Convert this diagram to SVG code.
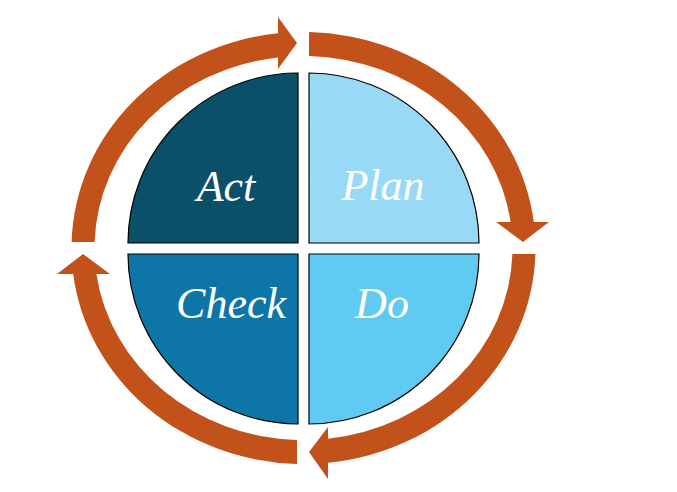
<svg xmlns="http://www.w3.org/2000/svg" width="677" height="492" viewBox="0 0 677 492">
<style>
.arr{fill:#C2521A;stroke:none}
.q{stroke:#000;stroke-width:1.2}
.lbl{font-family:"Liberation Serif","DejaVu Serif",serif;font-style:italic;font-size:44px;fill:#fff;text-anchor:middle}
</style>
<rect width="677" height="492" fill="#fff"/>
<g id="connectors">
<path class="arr" d="M 71.6 242 A 232 216 0 0 1 278 33.3 L 278 17 L 297 43 L 278 69 L 278 57.4 A 209 192 0 0 0 94.6 242 Z"/>
<path class="arr" d="M 309 32.1 A 232 216 0 0 1 533.8 222 L 549 222 L 523 242 L 496 222 L 510.6 222 A 209 192 0 0 0 309 56.1 Z"/>
<path class="arr" d="M 535.4 254 A 232 216 0 0 1 328 462.8 L 328 479 L 309 452 L 328 427 L 328 438.7 A 209 192 0 0 0 512.4 254 Z"/>
<path class="arr" d="M 297 463.9 A 232 216 0 0 1 73.2 274 L 57 274 L 83 254 L 110 274 L 96.4 274 A 209 192 0 0 0 297 439.9 Z"/>
</g>
<g id="act">
<path class="q" fill="#0B5069" d="M 298 243 L 128 243 A 170 170 0 0 1 298 73 Z"/>
<text class="lbl" x="226" y="201">Act</text>
</g>
<g id="plan">
<path class="q" fill="#98DAF6" d="M 309 243 L 309 73 A 170 170 0 0 1 479 243 Z"/>
<text class="lbl" x="383" y="200">Plan</text>
</g>
<g id="check">
<path class="q" fill="#0E76A6" d="M 298 254 L 298 424 A 170 170 0 0 1 128 254 Z"/>
<text class="lbl" x="231" y="318">Check</text>
</g>
<g id="do">
<path class="q" fill="#5FCAF2" d="M 309 254 L 479 254 A 170 170 0 0 1 309 424 Z"/>
<text class="lbl" x="382" y="318">Do</text>
</g>
</svg>
